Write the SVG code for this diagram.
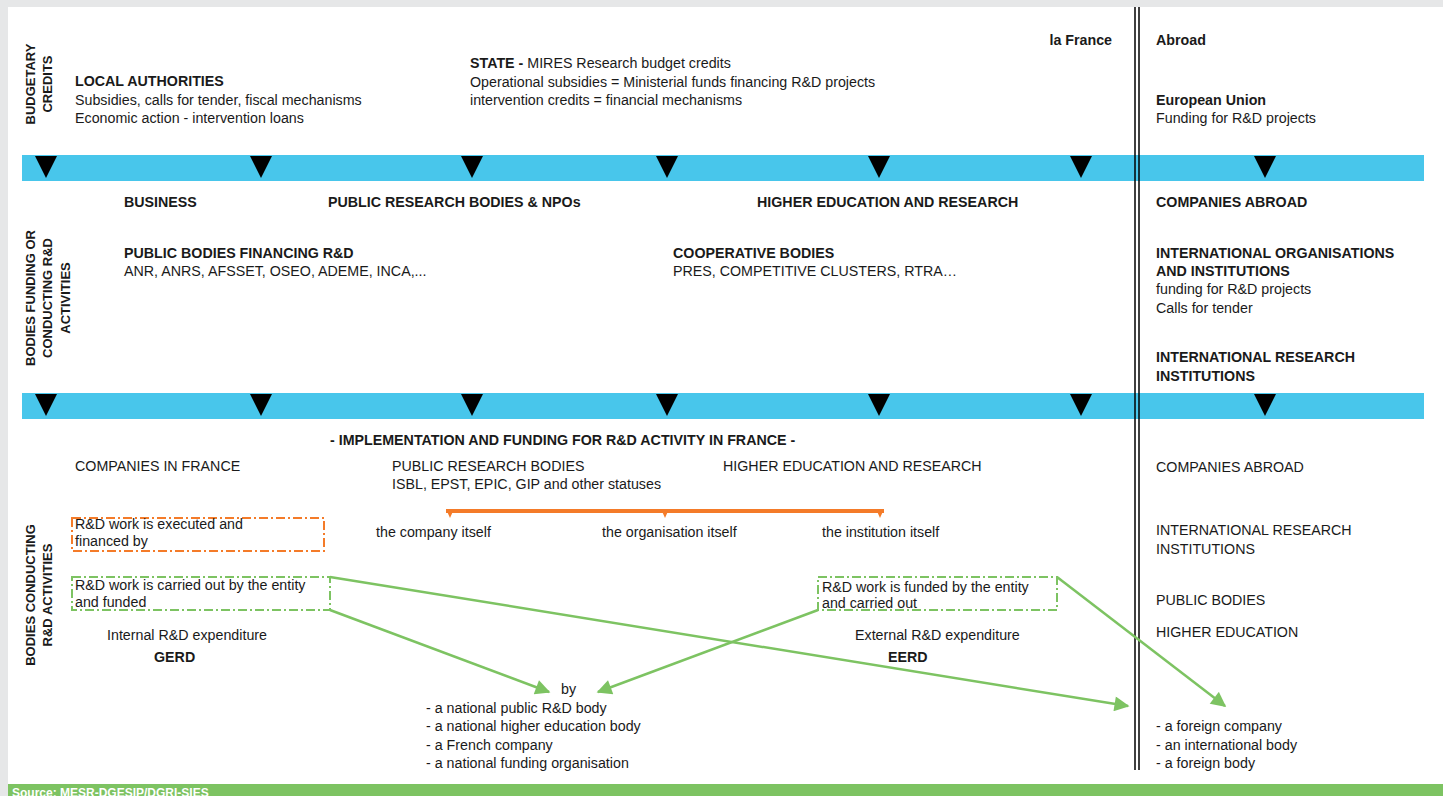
<svg xmlns="http://www.w3.org/2000/svg" width="1443" height="796" viewBox="0 0 1443 796">
<defs>
<style>
text{font-family:"Liberation Sans",Arial,sans-serif;font-size:14.25px;fill:#1a1a1a}
.b{font-weight:bold}
.v{font-weight:bold;text-anchor:middle;font-size:13px}
.bar{fill:#48c6eb}
.tri{fill:#000}
.dash-o{fill:none;stroke:#f47b29;stroke-width:2;stroke-dasharray:9 3 2 3}
.dash-g{fill:none;stroke:#7dc362;stroke-width:2;stroke-dasharray:9 3 2 3}
.arr{fill:none;stroke:#7dc362;stroke-width:2.5}
.src{fill:#fff;font-weight:bold;font-size:12px}
</style>
<marker id="ah" viewBox="0 0 10 10" refX="9" refY="5" markerWidth="7" markerHeight="6" markerUnits="strokeWidth" orient="auto">
<path d="M0,0 L10,5 L0,10 z" fill="#7dc362"/>
</marker>
<path id="t" d="M-11,0 L11,0 L0,22 z"/>
</defs>
<rect x="0" y="0" width="1443" height="796" fill="#e6e7e8"/>
<rect x="8" y="7" width="1435" height="777" fill="#fff"/>
<rect x="8" y="784" width="1435" height="12" fill="#7dc362"/>
<text class="src" x="12" y="797">Source: MESR-DGESIP/DGRI-SIES</text>

<g id="bars">
<rect class="bar" x="22" y="155" width="1402" height="26"/>
<rect class="bar" x="22" y="393" width="1402" height="26"/>
<g class="tri">
<use href="#t" x="46" y="156"/><use href="#t" x="261" y="156"/><use href="#t" x="472" y="156"/><use href="#t" x="667" y="156"/><use href="#t" x="879" y="156"/><use href="#t" x="1081" y="156"/><use href="#t" x="1265" y="156"/>
<use href="#t" x="46" y="394"/><use href="#t" x="261" y="394"/><use href="#t" x="472" y="394"/><use href="#t" x="667" y="394"/><use href="#t" x="879" y="394"/><use href="#t" x="1081" y="394"/><use href="#t" x="1265" y="394"/>
</g>
</g>

<g id="divider">
<line x1="1135" y1="7" x2="1135" y2="770" stroke="#000" stroke-width="1.5"/>
<line x1="1139" y1="7" x2="1139" y2="770" stroke="#000" stroke-width="1.5"/>
</g>

<g id="row-labels">
<text class="v" transform="translate(35,84) rotate(-90)">BUDGETARY</text>
<text class="v" transform="translate(52,84) rotate(-90)">CREDITS</text>
<text class="v" transform="translate(35,298) rotate(-90)">BODIES FUNDING OR</text>
<text class="v" transform="translate(52,298) rotate(-90)">CONDUCTING R&amp;D</text>
<text class="v" transform="translate(70,298) rotate(-90)">ACTIVITIES</text>
<text class="v" transform="translate(35,595) rotate(-90)">BODIES CONDUCTING</text>
<text class="v" transform="translate(52,595) rotate(-90)">R&amp;D ACTIVITIES</text>
</g>

<g id="local-authorities">
<text class="b" x="75" y="86">LOCAL AUTHORITIES</text>
<text x="75" y="105">Subsidies, calls for tender, fiscal mechanisms</text>
<text x="75" y="123">Economic action - intervention loans</text>
</g>
<g id="state">
<text x="470" y="68"><tspan class="b">STATE - </tspan>MIRES Research budget credits</text>
<text x="470" y="87">Operational subsidies = Ministerial funds financing R&amp;D projects</text>
<text x="470" y="105">intervention credits = financial mechanisms</text>
</g>
<g id="la-france"><text class="b" x="1112" y="45" text-anchor="end">la France</text></g>
<g id="abroad"><text class="b" x="1156" y="45">Abroad</text></g>
<g id="eu">
<text class="b" x="1156" y="105">European Union</text>
<text x="1156" y="123">Funding for R&amp;D projects</text>
</g>

<g id="business"><text class="b" x="124" y="207">BUSINESS</text></g>
<g id="public-research"><text class="b" x="328" y="207">PUBLIC RESEARCH BODIES &amp; NPOs</text></g>
<g id="higher-ed"><text class="b" x="757" y="207">HIGHER EDUCATION AND RESEARCH</text></g>
<g id="companies-abroad-1"><text class="b" x="1156" y="207">COMPANIES ABROAD</text></g>
<g id="public-financing">
<text class="b" x="124" y="258">PUBLIC BODIES FINANCING R&amp;D</text>
<text x="124" y="276">ANR, ANRS, AFSSET, OSEO, ADEME, INCA,...</text>
</g>
<g id="cooperative">
<text class="b" x="673" y="258">COOPERATIVE BODIES</text>
<text x="673" y="276">PRES, COMPETITIVE CLUSTERS, RTRA…</text>
</g>
<g id="intl-orgs">
<text class="b" x="1156" y="258">INTERNATIONAL ORGANISATIONS</text>
<text class="b" x="1156" y="276">AND INSTITUTIONS</text>
<text x="1156" y="294">funding for R&amp;D projects</text>
<text x="1156" y="313">Calls for tender</text>
</g>
<g id="intl-research-1">
<text class="b" x="1156" y="362">INTERNATIONAL RESEARCH</text>
<text class="b" x="1156" y="381">INSTITUTIONS</text>
</g>

<g id="implementation"><text class="b" x="330" y="445">- IMPLEMENTATION AND FUNDING FOR R&amp;D ACTIVITY IN FRANCE -</text></g>
<g id="companies-france"><text x="75" y="471">COMPANIES IN FRANCE</text></g>
<g id="public-research-2">
<text x="392" y="471">PUBLIC RESEARCH BODIES</text>
<text x="392" y="489">ISBL, EPST, EPIC, GIP and other statuses</text>
</g>
<g id="higher-ed-2"><text x="723" y="471">HIGHER EDUCATION AND RESEARCH</text></g>
<g id="companies-abroad-2"><text x="1156" y="472">COMPANIES ABROAD</text></g>

<g id="executed-box">
<rect class="dash-o" x="72" y="518" width="252" height="33"/>
<text x="75" y="529">R&amp;D work is executed and</text>
<text x="75" y="546">financed by</text>
</g>
<g id="bracket">
<line x1="446" y1="511" x2="884" y2="511" stroke="#f47b29" stroke-width="4"/>
<path d="M446,509 L454,509 L450,518 z M661,509 L669,509 L665,518 z M876,509 L884,509 L880,518 z" fill="#f47b29"/>
</g>
<g id="itself">
<text x="376" y="537">the company itself</text>
<text x="602" y="537">the organisation itself</text>
<text x="822" y="537">the institution itself</text>
</g>
<g id="intl-research-2">
<text x="1156" y="535">INTERNATIONAL RESEARCH</text>
<text x="1156" y="554">INSTITUTIONS</text>
</g>
<g id="carried-box">
<rect class="dash-g" x="72" y="577" width="258" height="33"/>
<text x="75" y="590">R&amp;D work is carried out by the entity</text>
<text x="75" y="607">and funded</text>
</g>
<g id="funded-box">
<rect class="dash-g" x="818" y="577" width="239" height="33"/>
<text x="822" y="592">R&amp;D work is funded by the entity</text>
<text x="822" y="608">and carried out</text>
</g>
<g id="public-bodies"><text x="1156" y="605">PUBLIC BODIES</text></g>
<g id="higher-education"><text x="1156" y="637">HIGHER EDUCATION</text></g>
<g id="gerd">
<text x="107" y="640">Internal R&amp;D expenditure</text>
<text class="b" x="154" y="662">GERD</text>
</g>
<g id="eerd">
<text x="855" y="640">External R&amp;D expenditure</text>
<text class="b" x="888" y="662">EERD</text>
</g>
<g id="national">
<text x="561" y="694">by</text>
<text x="426" y="713">- a national public R&amp;D body</text>
<text x="426" y="731">- a national higher education body</text>
<text x="426" y="750">- a French company</text>
<text x="426" y="768">- a national funding organisation</text>
</g>
<g id="foreign">
<text x="1156" y="731">- a foreign company</text>
<text x="1156" y="750">- an international body</text>
<text x="1156" y="768">- a foreign body</text>
</g>

<g id="connectors">
<line class="arr" x1="330" y1="577" x2="1128" y2="706" marker-end="url(#ah)"/>
<line class="arr" x1="330" y1="610" x2="549" y2="692" marker-end="url(#ah)"/>
<line class="arr" x1="818" y1="610" x2="598" y2="692" marker-end="url(#ah)"/>
<line class="arr" x1="1057" y1="577" x2="1225" y2="706" marker-end="url(#ah)"/>
</g>
</svg>
